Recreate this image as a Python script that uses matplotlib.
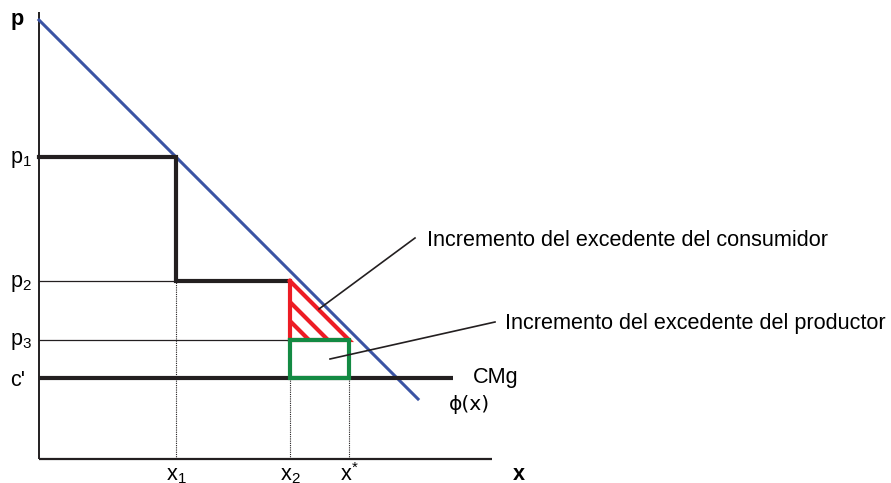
import matplotlib.pyplot as plt

plt.rcParams['font.family'] = ['Liberation Sans', 'DejaVu Sans']
plt.rcParams['mathtext.fontset'] = 'custom'
plt.rcParams['mathtext.rm'] = 'Liberation Sans'

# values (arbitrary units, origin at the axes corner)
p_max = 439          # demand intercept
x_demand_end = 379
p1, p2, p3, c_prime = 302, 178, 119, 81
x1, x2, x_star = 137, 251, 310
x_cmg_end = 414
x_axis_end, y_axis_end = 453, 447

price_labels = [r'p$_\mathregular{1}$', r'p$_\mathregular{2}$', r'p$_\mathregular{3}$', "c'"]
price_values = [p1, p2, p3, c_prime]
qty_labels = [r'x$_\mathregular{1}$', r'x$_\mathregular{2}$', r'x$^\mathregular{*}$']
qty_values = [x1, x2, x_star]

black = '#231f20'
blue = '#3a53a4'
red = '#ed1c24'
green = '#138a43'

fig = plt.figure(figsize=(8.91, 4.83), dpi=100)
ax = fig.add_axes([0, 0, 1, 1])
ax.set_xlim(-39, 852)
ax.set_ylim(-24, 459)
ax.axis('off')

# axes
ax.plot([0, 0], [0, y_axis_end], color=black, lw=1.4, solid_capstyle='butt')
ax.plot([0, x_axis_end], [0, 0], color=black, lw=1.6, solid_capstyle='butt')

# demand
ax.plot([0, x_demand_end], [p_max, p_max - x_demand_end], color=blue, lw=2.2)

# thin reference lines
ax.plot([0, x1], [p2, p2], color=black, lw=0.9)
ax.plot([0, x2], [p3, p3], color=black, lw=0.9)

# dotted drop lines
dot = dict(color=black, lw=0.8, linestyle=(0, (1, 1)))
ax.plot([x1, x1], [0, p2], **dot)
ax.plot([x2, x2], [0, c_prime], **dot)
ax.plot([x_star, x_star], [0, c_prime], **dot)

# step prices
ax.plot([0, x1, x1], [p1, p1, p2], color=black, lw=3, solid_joinstyle='miter')
ax.plot([x1, x2], [p2, p2], color=black, lw=3, solid_capstyle='butt')

# marginal cost
ax.plot([0, x_cmg_end], [c_prime, c_prime], color=black, lw=3, solid_capstyle='butt')

# consumer surplus triangle with hatching
ax.plot([x2, x2, x_star, x2], [p2, p3, p3, p2], color=red, lw=3, solid_joinstyle='miter')
for yy in [p2 - 21, p2 - 40]:
    ax.plot([x2, x2 + (yy - p3)], [yy, p3], color=red, lw=3, solid_capstyle='butt')

# producer surplus rectangle
ax.plot([x2, x_star, x_star, x2, x2], [p3, p3, c_prime, c_prime, p3],
        color=green, lw=3, solid_joinstyle='miter')

# pointers
ax.plot([376, 280], [221, 150], color=black, lw=1.2)
ax.plot([456, 291], [137, 100], color=black, lw=1.2)

fs = 15.6
ax.text(388, 219, 'Incremento del excedente del consumidor', fontsize=fs, va='center')
ax.text(466, 135, 'Incremento del excedente del productor', fontsize=fs, va='center')
ax.text(434, c_prime + 1, 'CMg', fontsize=fs, va='center')
ax.text(410, 54, 'ϕ(x)', fontsize=fs - 1, va='center', family=['DejaVu Sans'])

for lab, v in zip(price_labels, price_values):
    ax.text(-29, v - 2, lab, fontsize=fs, va='center')
ax.text(-28, 439, 'p', fontsize=fs, fontweight='bold', va='center')

for lab, v in zip(qty_labels, qty_values):
    ax.text(v, -16, lab, fontsize=fs, ha='center', va='center')
ax.text(480, -15, 'x', fontsize=fs, fontweight='bold', ha='center', va='center')

fig.savefig('out.png', dpi=100)
